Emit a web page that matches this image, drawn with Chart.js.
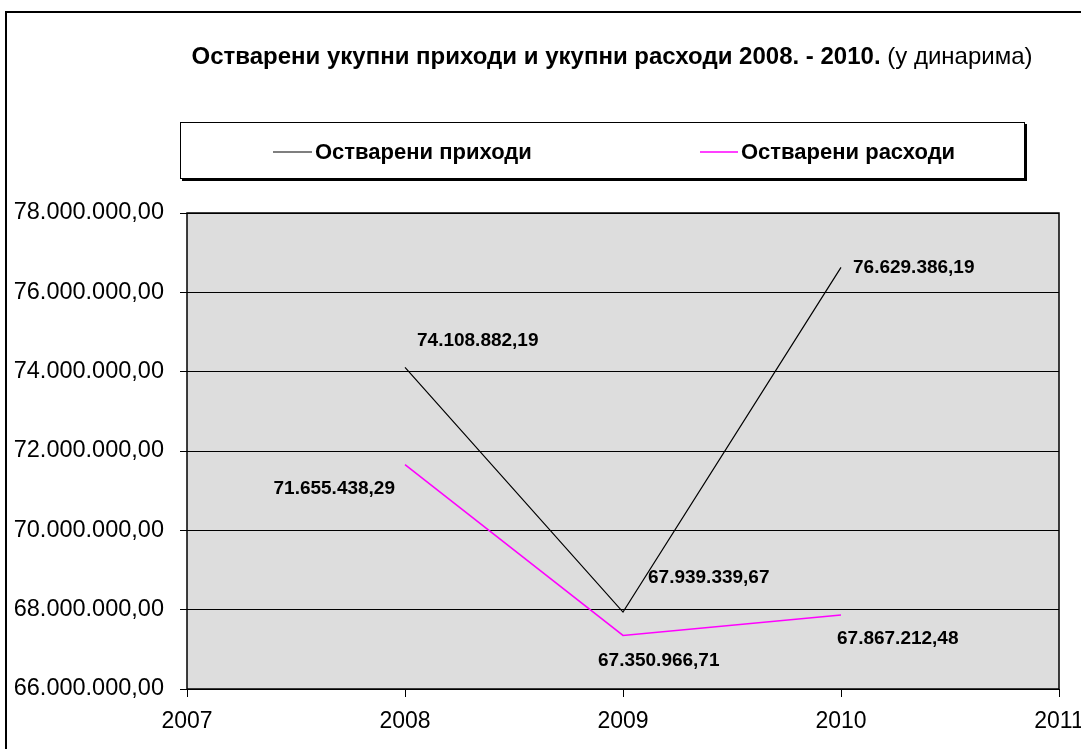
<!DOCTYPE html>
<html>
<head>
<meta charset="utf-8">
<script src="https://cdn.jsdelivr.net/npm/chart.js@4/dist/chart.umd.min.js"></script>
<style>
  html, body { margin: 0; padding: 0; background: #fff; }
  #wrap { width: 1081px; height: 749px; position: relative; }
</style>
</head>
<body>
<div id="wrap"><canvas id="c" width="1081" height="749"></canvas></div>
<script>
// ── data ──
const years = [2008, 2009, 2010];
const prihodi = [74108882.19, 67939339.67, 76629386.19];
const rashodi = [71655438.29, 67350966.71, 67867212.48];
const seriesNames = ['Остварени приходи', 'Остварени расходи'];
const yTicks = [66000000, 68000000, 70000000, 72000000, 74000000, 76000000, 78000000];
const xTicks = [2007, 2008, 2009, 2010, 2011];

// label offsets from the point: [dx, dy, align]
const labelPos = [
  [[12, -27, 'left'], [25, -34, 'left'], [12, 0, 'left']],
  [[-10, 24, 'right'], [-25, 25, 'left'], [-4, 24, 'left']]
];

const FONT = '"Liberation Sans", Arial, sans-serif';

function fmtNum(v, dec) {
  const parts = v.toFixed(dec).split('.');
  parts[0] = parts[0].replace(/\B(?=(\d{3})+(?!\d))/g, '.');
  return dec ? parts[0] + ',' + parts[1] : parts[0];
}

// ── frame, title, legend, plot bg ──
const decor = {
  id: 'decor',
  beforeDraw(chart) {
    const ctx = chart.ctx, a = chart.chartArea;
    ctx.save();
    ctx.fillStyle = '#dddddd';
    ctx.fillRect(a.left, a.top, a.right - a.left, a.bottom - a.top);
    // outer frame
    ctx.strokeStyle = '#000';
    ctx.lineWidth = 2;
    ctx.strokeRect(6, 12, 1100, 760);
    // title
    const t1 = 'Остварени укупни приходи и укупни расходи 2008. - 2010.';
    const t2 = ' (у динарима)';
    ctx.textBaseline = 'middle';
    ctx.fillStyle = '#000';
    ctx.font = 'bold 24px ' + FONT;
    const w1 = ctx.measureText(t1).width;
    ctx.font = '24px ' + FONT;
    const w2 = ctx.measureText(t2).width;
    let x = 612 - (w1 + w2) / 2;
    ctx.font = 'bold 24px ' + FONT;
    ctx.textAlign = 'left';
    ctx.fillText(t1, x, 57);
    ctx.font = '24px ' + FONT;
    ctx.fillText(t2, x + w1, 57);
    // legend box
    ctx.fillStyle = '#000';
    ctx.fillRect(182, 124, 845, 57);
    ctx.fillStyle = '#fff';
    ctx.fillRect(180, 122, 845, 57);
    ctx.lineWidth = 1;
    ctx.strokeRect(180.5, 122.5, 844, 56);
    const items = [[273, 312, 315], [700, 738, 741]];
    chart.data.datasets.forEach((ds, i) => {
      const it = items[i];
      ctx.strokeStyle = ds.borderColor;
      ctx.lineWidth = ds.borderWidth;
      ctx.beginPath();
      ctx.moveTo(it[0], 152);
      ctx.lineTo(it[1], 152);
      ctx.stroke();
      ctx.fillStyle = '#000';
      ctx.font = 'bold 22px ' + FONT;
      ctx.fillText(ds.label, it[2], 153);
    });
    ctx.restore();
  },
  afterDatasetsDraw(chart) {
    const ctx = chart.ctx, a = chart.chartArea;
    ctx.save();
    ctx.strokeStyle = '#000';
    ctx.lineWidth = 1.5;
    ctx.strokeRect(a.left, a.top, a.right - a.left, a.bottom - a.top);
    // data labels
    ctx.font = 'bold 19px ' + FONT;
    ctx.fillStyle = '#000';
    ctx.textBaseline = 'middle';
    chart.data.datasets.forEach((ds, i) => {
      chart.getDatasetMeta(i).data.forEach((pt, j) => {
        const p = labelPos[i][j];
        ctx.textAlign = p[2];
        ctx.fillText(fmtNum(ds.data[j].y, 2), pt.x + p[0], pt.y + p[1]);
      });
    });
    ctx.restore();
  }
};

new Chart(document.getElementById('c'), {
  type: 'line',
  data: {
    datasets: [
      { label: seriesNames[0], data: years.map((y, i) => ({ x: y, y: prihodi[i] })), borderColor: '#000000', borderWidth: 1.2 },
      { label: seriesNames[1], data: years.map((y, i) => ({ x: y, y: rashodi[i] })), borderColor: '#ff00ff', borderWidth: 1.5 }
    ]
  },
  options: {
    responsive: false,
    animation: false,
    events: [],
    layout: { padding: { left: 0, top: 213, right: 22, bottom: 0 } },
    elements: { point: { radius: 0 }, line: { tension: 0 } },
    plugins: { legend: { display: false }, title: { display: false }, tooltip: { enabled: false } },
    scales: {
      x: {
        type: 'linear', min: xTicks[0], max: xTicks[xTicks.length - 1],
        afterBuildTicks: s => { s.ticks = xTicks.map(v => ({ value: v })); },
        afterFit: s => { s.height = 60; s.paddingLeft = 0; s.paddingRight = 0; },
        grid: { drawOnChartArea: false, drawTicks: true, tickLength: 8, color: '#000', lineWidth: 1 },
        border: { display: false },
        ticks: { font: { family: FONT, size: 23 }, color: '#000', padding: 11, maxRotation: 0, callback: v => String(v) }
      },
      y: {
        min: yTicks[0], max: yTicks[yTicks.length - 1],
        afterBuildTicks: s => { s.ticks = yTicks.map(v => ({ value: v })); },
        afterFit: s => { s.width = 187; },
        grid: { color: '#000', lineWidth: 1, tickLength: 7 },
        border: { display: false },
        ticks: { font: { family: FONT, size: 23.5 }, color: '#000', padding: 16, callback: v => fmtNum(v, 2) }
      }
    }
  },
  plugins: [decor]
});
</script>
</body>
</html>
